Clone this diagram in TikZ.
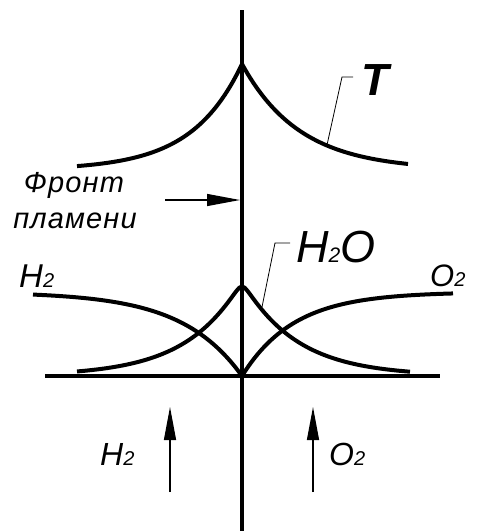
\documentclass[tikz,border=0pt]{standalone}
\usepackage{fontspec}
\setmainfont{Liberation Sans}
\usetikzlibrary{arrows.meta}
\newcommand{\subsz}[2]{{\fontsize{#1}{#1}\selectfont #2}}

\begin{document}
\begin{tikzpicture}[
  x=1pt, y=-1pt,
  curve/.style={line width=4pt,line join=round},
  leader/.style={line width=0.8pt},
  flow/.style={line width=1.3pt,-{Triangle[length=33pt,width=12pt]}},
  lbl/.style={inner sep=0pt,anchor=base west,font=\itshape}
]
  \useasboundingbox (0,0) rectangle (477,531);
  % axes
  \coordinate (ftop) at (242,10);
  \coordinate (fbot) at (242,531);
  \coordinate (zl) at (45,376);
  \coordinate (zr) at (440,376);
  \draw[line width=4.5pt] (ftop) -- (fbot);
  \draw[line width=3.5pt] (zl) -- (zr);
  % temperature
  \draw[curve] plot[domain=165:0,samples=60] ({242-\x},{170-106*exp(-\x/50)})
    -- plot[domain=0:166,samples=60] ({242+\x},{170-106*exp(-\x/58)});
  % water
  \draw[curve] plot[domain=165:0,samples=60] ({242-\x},{376-96.5*exp(-veclen(\x,4)/54)})
    -- plot[domain=0:168,samples=60] ({242+\x},{376-96.5*exp(-veclen(\x,4)/54)});
  % hydrogen and oxygen
  \draw[curve] plot[domain=209:0,samples=60] ({242-\x},{376-84*(1-exp(-\x/60))});
  \draw[curve] plot[domain=0:211,samples=60] ({242+\x},{376-84*(1-exp(-\x/52))});
  % labels
  \node[lbl,font=\itshape\bfseries\fontsize{45}{45}\selectfont] (tlbl) at (361,95) {T};
  \node[lbl,font=\itshape\fontsize{45}{45}\selectfont] (wlbl) at (296,262) {H\subsz{21}{2}O};
  \node[lbl,font=\itshape\fontsize{33}{33}\selectfont] (hlbl) at (19,287) {H\subsz{20}{2}};
  \node[lbl,font=\itshape\fontsize{31}{31}\selectfont] (olbl) at (430,286) {O\subsz{20}{2}};
  \node[lbl,font=\itshape\fontsize{32}{32}\selectfont] (hin) at (100,465) {H\subsz{20}{2}};
  \node[lbl,font=\itshape\fontsize{32}{32}\selectfont] (oin) at (329,465) {O\subsz{20}{2}};
  \node[inner sep=0pt,anchor=base,font=\itshape\fontsize{29}{29}\selectfont\addfontfeature{LetterSpace=4}] (front1) at (74,192) {Фронт};
  \node[inner sep=0pt,anchor=base,font=\itshape\fontsize{29}{29}\selectfont\addfontfeature{LetterSpace=4}] (front2) at (75,228) {пламени};
  % leaders
  \coordinate (tfoot) at (327,145);
  \coordinate (tknee) at (342,77);
  \coordinate (tend) at (353,77);
  \draw[leader] (tfoot) -- (tknee) -- (tend);
  \coordinate (wfoot) at (262,307);
  \coordinate (wknee) at (275,243);
  \coordinate (wend) at (290,243);
  \draw[leader] (wfoot) -- (wknee) -- (wend);
  % arrows
  \coordinate (fa) at (165,200);
  \coordinate (fb) at (240,200);
  \draw[flow] (fa) -- (fb);
  \coordinate (ha) at (170,492);
  \coordinate (hb) at (170,407);
  \draw[flow] (ha) -- (hb);
  \coordinate (oa) at (313,492);
  \coordinate (ob) at (313,407);
  \draw[flow] (oa) -- (ob);
\end{tikzpicture}
\end{document}
